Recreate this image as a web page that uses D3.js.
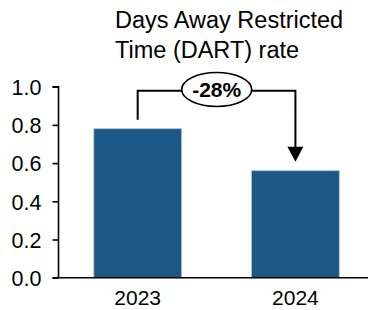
<!DOCTYPE html>
<html><head><meta charset="utf-8">
<script src="https://cdn.jsdelivr.net/npm/d3@7"></script>
<style>body{margin:0;background:#fff}svg{display:block;font-family:"Liberation Sans",Arial,sans-serif}</style>
</head><body><svg id="c" width="368" height="310"></svg>
<script>
const categories = ["2023", "2024"];
const values = [0.78, 0.56];
const yTicks = [0, 0.2, 0.4, 0.6, 0.8, 1.0];
const titleLines = ["Days Away Restricted", "Time (DART) rate"];
const changeLabel = "-28%";

const svg = d3.select("#c");
const x0 = 58.5, yBase = 277.7, yTop = 86.7;
const x = d3.scaleBand().domain(categories).range([x0, 374.6]).paddingInner(0.444).paddingOuter(0.224);
const y = d3.scaleLinear().domain([0, 1]).range([yBase, yTop]);
const FF = '"Liberation Sans",Arial,sans-serif';

// title
svg.append("text").attr("x", 115).attr("y", 27.5).attr("font-size", 23.5).attr("fill", "#000")
  .selectAll("tspan").data(titleLines).join("tspan").attr("x", 115).attr("dy", (d, i) => i ? 30.5 : 0).text(d => d);

// bars
svg.append("g").selectAll("rect").data(values).join("rect")
  .attr("x", (d, i) => x(categories[i])).attr("width", x.bandwidth())
  .attr("y", d => y(d)).attr("height", d => yBase - y(d))
  .attr("fill", "#1b5886").attr("stroke", "#a8bfd2").attr("stroke-width", 0.8);

// y axis
const ya = svg.append("g").attr("transform", `translate(${x0},0)`)
  .call(d3.axisLeft(y).tickValues(yTicks).tickFormat(d3.format(".1f")).tickSize(6).tickPadding(11));
ya.select(".domain").attr("d", `M-6,${y(1)}H0V${yBase}`).attr("stroke", "#000").attr("stroke-width", 1.6);
ya.selectAll(".tick line").attr("stroke", "#000").attr("stroke-width", 1.6);
ya.selectAll(".tick text").attr("font-size", 21.5).attr("fill", "#000").attr("font-family", FF).attr("dy", "0.36em");

// baseline
svg.append("line").attr("x1", x0 - 6).attr("x2", 368).attr("y1", yBase).attr("y2", yBase).attr("stroke", "#000").attr("stroke-width", 1.6);

// x labels
const xa = svg.append("g").attr("transform", `translate(0,${yBase})`)
  .call(d3.axisBottom(x).tickSize(0).tickPadding(0));
xa.select(".domain").remove();
xa.selectAll(".tick text").attr("font-size", 21).attr("fill", "#000").attr("font-family", FF)
  .attr("y", 27).attr("dy", 0);

// annotation
const cx1 = x(categories[0]) + x.bandwidth() / 2, cx2 = x(categories[1]) + x.bandwidth() / 2;
const yLine = 90.7;
const tipY = y(values[1]) - 9;
svg.append("path").attr("d", `M${cx1},${y(values[0]) - 9}V${yLine}H${cx2}V${tipY - 14}`)
  .attr("fill", "none").attr("stroke", "#000").attr("stroke-width", 2);
svg.append("path").attr("d", `M${cx2 - 8},${tipY - 15}L${cx2 + 8},${tipY - 15}L${cx2},${tipY}Z`).attr("fill", "#000");
const ex = 216.7;
svg.append("ellipse").attr("cx", ex).attr("cy", 89.5).attr("rx", 35).attr("ry", 17)
  .attr("fill", "#fff").attr("stroke", "#000").attr("stroke-width", 1.6);
svg.append("text").attr("x", ex).attr("y", 89.5 + 7.5).attr("text-anchor", "middle")
  .attr("font-size", 21).attr("font-weight", "bold").attr("fill", "#000").text(changeLabel);
</script></body></html>
